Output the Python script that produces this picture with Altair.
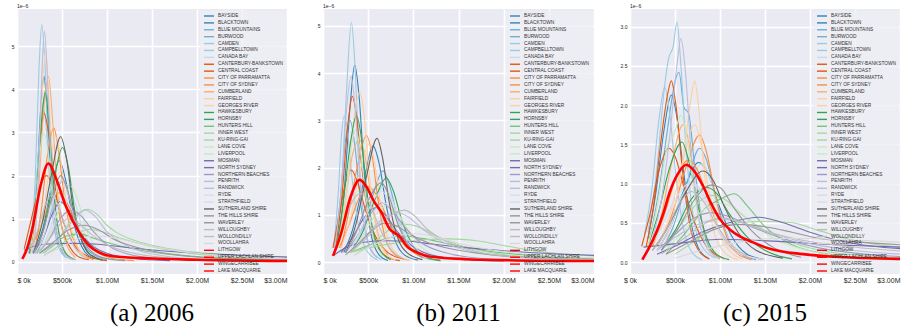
import altair as alt
import pandas as pd

FONT = "Liberation Sans"

NAMES = ["BAYSIDE", "BLACKTOWN", "BLUE MOUNTAINS", "BURWOOD", "CAMDEN", "CAMPBELLTOWN",
         "CANADA BAY", "CANTERBURY-BANKSTOWN", "CENTRAL COAST", "CITY OF PARRAMATTA",
         "CITY OF SYDNEY", "CUMBERLAND", "FAIRFIELD", "GEORGES RIVER", "HAWKESBURY",
         "HORNSBY", "HUNTERS HILL", "INNER WEST", "KU-RING-GAI", "LANE COVE", "LIVERPOOL",
         "MOSMAN", "NORTH SYDNEY", "NORTHERN BEACHES", "PENRITH", "RANDWICK", "RYDE",
         "STRATHFIELD", "SUTHERLAND SHIRE", "THE HILLS SHIRE", "WAVERLEY", "WILLOUGHBY",
         "WOLLONDILLY", "WOOLLAHRA", "LITHGOW", "UPPER LACHLAN SHIRE", "WINGECARRIBEE",
         "LAKE MACQUARIE"]

B1, B2, B3, B4 = "#3182bd", "#6baed6", "#9ecae1", "#c6dbef"
O1, O2, O3, O4 = "#e6550d", "#fd8d3c", "#fdae6b", "#fdd0a2"
G1, G2, G3, G4 = "#31a354", "#74c476", "#a1d99b", "#c7e9c0"
P1, P2, P3, P4 = "#756bb1", "#9e9ac8", "#bcbddc", "#dadaeb"
K1, K2, K3, K4 = "#636363", "#969696", "#bdbdbd", "#d9d9d9"
RED = "#ff0000"

COLORS_AB = [B1, B1, B2, B2, B3, B3, B4, O1, O1, O2, O2, O3, O4, O4, G1, G1, G2, G3, G3,
             G4, G4, P1, P1, P2, P3, P3, P4, P4, K1, K2, K2, K3, K3, K4, RED, RED, RED, RED]
COLORS_C = [B1, B1, B2, B2, B3, B4, B4, O1, O1, O2, O3, O3, O4, O4, G1, G2, G2, G3, G3,
            G4, P1, P1, P2, P2, P3, P4, P4, K1, K1, K2, K3, K3, K4, K4, RED, RED, RED, RED]

# price in $k, density in units of 1e-6
A2006 = {
    "BAYSIDE": [(180, 0.2), (290, 0.8), (390, 1.8), (470, 2.35), (540, 1.9), (620, 1.0), (720, 0.35), (850, 0.08)],
    "BLACKTOWN": [(140, 0.2), (210, 1.4), (265, 3.6), (300, 4.3), (335, 3.5), (390, 1.6), (450, 0.6), (550, 0.1)],
    "BLUE MOUNTAINS": [(130, 0.2), (200, 1.2), (270, 3.3), (320, 4.0), (360, 3.3), (420, 1.4), (500, 0.4), (600, 0.08)],
    "BURWOOD": [(220, 0.2), (320, 0.7), (420, 1.5), (510, 1.9), (590, 1.4), (680, 0.7), (800, 0.25), (1000, 0.05)],
    "CAMDEN": [(150, 0.3), (200, 1.8), (245, 4.5), (275, 5.5), (310, 4.6), (360, 2.0), (420, 0.7), (520, 0.15), (620, 0.05)],
    "CAMPBELLTOWN": [(130, 0.2), (200, 1.4), (255, 3.0), (290, 3.6), (330, 3.0), (380, 1.5), (440, 0.5), (540, 0.1)],
    "CANADA BAY": [(250, 0.2), (360, 0.7), (460, 1.4), (560, 1.8), (640, 1.4), (740, 0.7), (880, 0.25), (1100, 0.06)],
    "CANTERBURY-BANKSTOWN": [(160, 0.3), (220, 1.5), (265, 2.9), (300, 3.45), (350, 3.0), (420, 1.8), (500, 0.8), (600, 0.3), (700, 0.1), (800, 0.05)],
    "CENTRAL COAST": [(80, 0.3), (160, 1.0), (260, 1.8), (330, 2.0), (420, 1.6), (520, 0.9), (650, 0.35), (800, 0.12), (1000, 0.03)],
    "CITY OF PARRAMATTA": [(200, 0.3), (270, 1.2), (340, 2.5), (410, 3.1), (460, 2.6), (520, 1.6), (600, 0.7), (700, 0.25), (850, 0.05)],
    "CITY OF SYDNEY": [(150, 0.3), (260, 0.8), (370, 1.4), (460, 1.6), (560, 1.35), (680, 0.8), (820, 0.35), (1000, 0.12), (1300, 0.03)],
    "CUMBERLAND": [(150, 0.2), (230, 1.4), (300, 3.6), (350, 4.3), (395, 3.3), (450, 1.6), (520, 0.6), (650, 0.1)],
    "FAIRFIELD": [(150, 0.2), (220, 1.3), (280, 3.9), (318, 4.9), (355, 3.8), (410, 1.6), (480, 0.5), (600, 0.1)],
    "GEORGES RIVER": [(200, 0.3), (290, 1.1), (370, 2.3), (430, 2.9), (490, 2.3), (560, 1.2), (650, 0.45), (780, 0.1)],
    "HAWKESBURY": [(140, 0.2), (210, 1.3), (270, 3.2), (315, 3.92), (355, 3.2), (410, 1.6), (470, 0.6), (560, 0.15), (650, 0.05)],
    "HORNSBY": [(200, 0.2), (300, 0.8), (410, 1.9), (505, 2.65), (570, 2.2), (640, 1.2), (720, 0.5), (820, 0.15), (950, 0.04)],
    "HUNTERS HILL": [(250, 0.2), (400, 0.4), (550, 0.6), (700, 0.65), (850, 0.55), (1000, 0.45), (1300, 0.3), (1800, 0.15), (2400, 0.07), (3000, 0.04)],
    "INNER WEST": [(280, 0.2), (420, 0.4), (600, 0.95), (780, 1.22), (880, 1.12), (1000, 0.85), (1100, 0.69), (1300, 0.5), (1600, 0.34), (2000, 0.22), (2500, 0.15), (3000, 0.12)],
    "KU-RING-GAI": [(300, 0.15), (450, 0.35), (620, 0.6), (800, 0.75), (950, 0.7), (1150, 0.55), (1500, 0.35), (2000, 0.18), (2500, 0.1), (3000, 0.06)],
    "LANE COVE": [(250, 0.2), (380, 0.7), (500, 1.4), (600, 1.75), (680, 1.4), (780, 0.7), (920, 0.25), (1150, 0.06)],
    "LIVERPOOL": [(150, 0.3), (210, 1.3), (260, 2.6), (300, 3.0), (340, 2.6), (400, 1.4), (470, 0.5), (560, 0.1)],
    "MOSMAN": [(80, 0.27), (200, 0.37), (400, 0.42), (650, 0.43), (900, 0.41), (1200, 0.34), (1600, 0.26), (2000, 0.2), (2500, 0.15), (3000, 0.11)],
    "NORTH SYDNEY": [(200, 0.2), (300, 0.6), (400, 1.15), (480, 1.4), (570, 1.2), (680, 0.75), (820, 0.4), (1000, 0.2), (1300, 0.08), (1700, 0.03)],
    "NORTHERN BEACHES": [(220, 0.2), (350, 0.5), (480, 1.0), (600, 1.2), (720, 1.05), (850, 0.7), (1000, 0.4), (1300, 0.15), (1800, 0.05), (2300, 0.02)],
    "PENRITH": [(170, 0.2), (230, 1.5), (275, 4.3), (305, 5.35), (335, 4.4), (380, 2.2), (440, 0.7), (540, 0.15), (650, 0.05)],
    "RANDWICK": [(300, 0.2), (450, 0.5), (620, 0.95), (760, 1.2), (870, 1.05), (1000, 0.7), (1200, 0.4), (1600, 0.15), (2200, 0.05), (3000, 0.02)],
    "RYDE": [(200, 0.2), (300, 0.6), (400, 1.4), (500, 1.9), (580, 1.5), (680, 0.8), (800, 0.3), (1000, 0.07)],
    "STRATHFIELD": [(230, 0.2), (340, 0.6), (440, 1.2), (520, 1.5), (610, 1.2), (720, 0.6), (860, 0.2), (1050, 0.05)],
    "SUTHERLAND SHIRE": [(180, 0.2), (280, 0.9), (380, 2.0), (485, 2.9), (550, 2.4), (620, 1.3), (700, 0.6), (800, 0.2), (950, 0.05)],
    "THE HILLS SHIRE": [(180, 0.2), (290, 0.7), (390, 1.5), (485, 2.0), (570, 1.6), (660, 0.9), (780, 0.35), (950, 0.1), (1200, 0.03)],
    "WAVERLEY": [(250, 0.2), (400, 0.45), (580, 0.75), (750, 0.85), (900, 0.75), (1100, 0.5), (1400, 0.3), (1900, 0.14), (2500, 0.07), (3000, 0.05)],
    "WILLOUGHBY": [(220, 0.2), (350, 0.5), (470, 0.85), (570, 1.0), (680, 0.9), (820, 0.65), (1000, 0.4), (1300, 0.2), (1800, 0.08), (3000, 0.02)],
    "WOLLONDILLY": [(150, 0.3), (240, 0.8), (320, 1.35), (380, 1.55), (450, 1.35), (540, 0.8), (650, 0.3), (800, 0.07)],
    "WOOLLAHRA": [(300, 0.15), (500, 0.35), (700, 0.55), (900, 0.6), (1100, 0.55), (1400, 0.4), (1800, 0.25), (2400, 0.13), (3000, 0.08)],
}

B2011 = {
    "BAYSIDE": [(230, 0.2), (330, 0.7), (450, 1.7), (554, 2.46), (620, 2.1), (700, 1.2), (790, 0.5), (900, 0.15), (1050, 0.04)],
    "BLACKTOWN": [(150, 0.3), (230, 1.4), (300, 3.3), (351, 4.17), (400, 3.5), (460, 1.8), (530, 0.6), (620, 0.15), (720, 0.03)],
    "BLUE MOUNTAINS": [(120, 0.3), (190, 1.3), (250, 2.6), (300, 3.0), (350, 2.5), (420, 1.2), (500, 0.4), (600, 0.1)],
    "BURWOOD": [(300, 0.2), (420, 0.6), (550, 1.4), (664, 1.93), (740, 1.6), (830, 0.9), (950, 0.35), (1100, 0.1), (1300, 0.03)],
    "CAMDEN": [(130, 0.3), (200, 1.4), (260, 3.6), (314, 5.08), (350, 4.3), (400, 2.2), (460, 0.8), (550, 0.2), (650, 0.05)],
    "CAMPBELLTOWN": [(120, 0.3), (170, 1.5), (210, 2.8), (235, 3.1), (270, 2.8), (320, 1.8), (390, 0.8), (480, 0.25), (600, 0.05)],
    "CANADA BAY": [(300, 0.2), (420, 0.6), (560, 1.3), (680, 1.6), (760, 1.35), (860, 0.8), (980, 0.35), (1150, 0.1)],
    "CANTERBURY-BANKSTOWN": [(140, 0.3), (210, 1.4), (280, 3.0), (325, 3.51), (370, 3.1), (430, 2.0), (500, 1.0), (600, 0.35), (720, 0.1), (850, 0.03)],
    "CENTRAL COAST": [(110, 0.3), (180, 1.0), (260, 1.75), (314, 1.95), (380, 1.7), (470, 1.1), (580, 0.55), (720, 0.2), (900, 0.06)],
    "CITY OF PARRAMATTA": [(200, 0.3), (290, 1.1), (400, 2.2), (480, 2.68), (540, 2.3), (610, 1.3), (690, 0.5), (800, 0.15), (950, 0.04)],
    "CITY OF SYDNEY": [(180, 0.3), (290, 0.8), (410, 1.4), (500, 1.6), (600, 1.4), (720, 0.9), (860, 0.45), (1050, 0.15), (1300, 0.04)],
    "CUMBERLAND": [(150, 0.3), (230, 1.1), (330, 2.3), (400, 2.6), (460, 2.3), (530, 1.4), (610, 0.6), (720, 0.15)],
    "FAIRFIELD": [(170, 0.3), (250, 1.2), (340, 3.0), (406, 3.6), (450, 3.2), (510, 1.9), (580, 0.8), (680, 0.2), (800, 0.05)],
    "GEORGES RIVER": [(200, 0.3), (300, 0.9), (420, 2.0), (510, 2.5), (570, 2.1), (640, 1.2), (720, 0.5), (830, 0.15), (960, 0.04)],
    "HAWKESBURY": [(150, 0.3), (220, 1.2), (310, 2.6), (369, 3.1), (420, 2.7), (480, 1.6), (550, 0.7), (650, 0.2), (750, 0.05)],
    "HORNSBY": [(300, 0.2), (430, 0.6), (570, 1.3), (701, 1.78), (780, 1.5), (870, 0.9), (980, 0.4), (1120, 0.12), (1300, 0.03)],
    "HUNTERS HILL": [(300, 0.2), (500, 0.35), (700, 0.5), (900, 0.55), (1100, 0.5), (1400, 0.38), (1800, 0.24), (2300, 0.14), (3000, 0.07)],
    "INNER WEST": [(300, 0.2), (500, 0.3), (800, 0.4), (1100, 0.47), (1400, 0.49), (1700, 0.45), (2000, 0.35), (2400, 0.22), (2700, 0.16), (3000, 0.13)],
    "KU-RING-GAI": [(350, 0.15), (550, 0.4), (750, 0.7), (900, 0.8), (1050, 0.75), (1250, 0.55), (1550, 0.33), (2000, 0.16), (2500, 0.08), (3000, 0.05)],
    "LANE COVE": [(300, 0.2), (430, 0.5), (580, 1.0), (720, 1.2), (820, 1.05), (950, 0.65), (1100, 0.3), (1350, 0.08)],
    "LIVERPOOL": [(170, 0.3), (240, 1.2), (310, 2.4), (360, 2.8), (410, 2.4), (480, 1.3), (560, 0.5), (660, 0.12)],
    "MOSMAN": [(111, 0.13), (250, 0.3), (450, 0.42), (700, 0.45), (950, 0.44), (1200, 0.38), (1600, 0.3), (2000, 0.24), (2500, 0.18), (3000, 0.14)],
    "NORTH SYDNEY": [(200, 0.2), (320, 0.5), (460, 0.95), (580, 1.15), (690, 1.0), (820, 0.65), (980, 0.35), (1200, 0.15), (1600, 0.05), (2000, 0.02)],
    "NORTHERN BEACHES": [(250, 0.2), (380, 0.55), (520, 1.0), (650, 1.25), (760, 1.1), (900, 0.75), (1080, 0.42), (1350, 0.2), (1800, 0.07), (2400, 0.03)],
    "PENRITH": [(130, 0.3), (200, 1.5), (260, 3.2), (310, 3.93), (350, 3.4), (410, 1.7), (480, 0.6), (580, 0.12)],
    "RANDWICK": [(300, 0.2), (450, 0.5), (650, 0.9), (820, 1.05), (950, 0.95), (1100, 0.7), (1350, 0.4), (1700, 0.2), (2300, 0.08), (3000, 0.04)],
    "RYDE": [(280, 0.2), (400, 0.6), (540, 1.25), (650, 1.5), (740, 1.25), (850, 0.7), (980, 0.3), (1150, 0.08)],
    "STRATHFIELD": [(300, 0.2), (420, 0.5), (560, 1.05), (680, 1.25), (780, 1.05), (900, 0.6), (1050, 0.25), (1250, 0.07)],
    "SUTHERLAND SHIRE": [(250, 0.2), (350, 0.7), (480, 1.8), (598, 2.62), (660, 2.2), (730, 1.3), (820, 0.55), (930, 0.2), (1100, 0.05)],
    "THE HILLS SHIRE": [(250, 0.2), (360, 0.6), (500, 1.3), (646, 1.68), (730, 1.4), (830, 0.8), (950, 0.35), (1100, 0.1)],
    "WAVERLEY": [(250, 0.15), (400, 0.4), (560, 0.7), (680, 0.82), (800, 0.78), (950, 0.6), (1150, 0.42), (1500, 0.25), (2000, 0.13), (2500, 0.08), (3000, 0.05)],
    "WILLOUGHBY": [(300, 0.2), (450, 0.45), (650, 0.85), (900, 1.1), (1000, 1.0), (1150, 0.7), (1350, 0.45), (1700, 0.22), (2200, 0.1), (3000, 0.05)],
    "WOLLONDILLY": [(140, 0.3), (230, 0.8), (330, 1.3), (420, 1.45), (500, 1.3), (600, 0.85), (720, 0.35), (880, 0.08)],
    "WOOLLAHRA": [(350, 0.15), (550, 0.35), (800, 0.55), (1050, 0.6), (1300, 0.5), (1600, 0.35), (2000, 0.22), (2500, 0.13), (3000, 0.09)],
}

C2015 = {
    "BAYSIDE": [(300, 0.15), (450, 0.45), (610, 0.95), (760, 1.27), (860, 1.15), (980, 0.75), (1120, 0.35), (1300, 0.1), (1500, 0.03)],
    "BLACKTOWN": [(200, 0.3), (290, 0.9), (380, 1.7), (459, 2.13), (520, 1.85), (590, 1.2), (670, 0.55), (760, 0.18), (880, 0.04)],
    "BLUE MOUNTAINS": [(220, 0.3), (320, 0.9), (430, 1.8), (500, 2.3), (544, 2.42), (600, 1.97), (650, 1.9), (720, 1.2), (800, 0.5), (900, 0.15), (1050, 0.04)],
    "BURWOOD": [(350, 0.15), (480, 0.45), (630, 1.0), (774, 1.45), (850, 1.3), (950, 0.85), (1060, 0.4), (1200, 0.12), (1400, 0.03)],
    "CAMDEN": [(160, 0.35), (240, 0.9), (320, 1.8), (385, 2.23), (440, 1.9), (510, 1.1), (590, 0.45), (690, 0.12), (800, 0.03)],
    "CAMPBELLTOWN": [(200, 0.38), (300, 1.2), (380, 2.2), (430, 2.6), (480, 2.75), (522, 3.06), (560, 2.6), (620, 1.5), (700, 0.6), (800, 0.2), (950, 0.05)],
    "CANADA BAY": [(400, 0.15), (530, 0.45), (680, 1.0), (790, 1.25), (880, 1.1), (980, 0.65), (1100, 0.28), (1280, 0.08)],
    "CANTERBURY-BANKSTOWN": [(180, 0.2), (260, 0.7), (350, 1.6), (420, 2.15), (459, 2.31), (510, 2.0), (580, 1.2), (660, 0.5), (760, 0.15), (880, 0.04)],
    "CENTRAL COAST": [(130, 0.2), (220, 0.6), (330, 1.2), (430, 1.45), (500, 1.35), (600, 0.95), (720, 0.5), (850, 0.2), (1000, 0.06)],
    "CITY OF PARRAMATTA": [(300, 0.2), (450, 0.55), (620, 1.2), (774, 1.62), (850, 1.4), (940, 0.9), (1050, 0.4), (1180, 0.12), (1350, 0.03)],
    "CITY OF SYDNEY": [(250, 0.2), (380, 0.6), (520, 1.1), (650, 1.3), (760, 1.15), (880, 0.75), (1020, 0.35), (1200, 0.12), (1450, 0.04)],
    "CUMBERLAND": [(250, 0.2), (350, 0.6), (470, 1.3), (589, 1.75), (650, 1.55), (720, 1.0), (800, 0.5), (900, 0.18), (1050, 0.04)],
    "FAIRFIELD": [(380, 0.2), (480, 0.6), (600, 1.4), (680, 2.1), (719, 2.31), (760, 2.0), (830, 1.1), (920, 0.45), (1050, 0.12), (1200, 0.03)],
    "GEORGES RIVER": [(300, 0.2), (430, 0.55), (580, 1.25), (719, 1.75), (790, 1.5), (870, 0.95), (970, 0.45), (1100, 0.15), (1250, 0.04)],
    "HAWKESBURY": [(200, 0.2), (310, 0.6), (440, 1.2), (578, 1.53), (650, 1.3), (740, 0.8), (840, 0.35), (960, 0.1), (1100, 0.03)],
    "HORNSBY": [(350, 0.15), (500, 0.4), (680, 0.8), (850, 0.95), (960, 0.88), (1100, 0.62), (1300, 0.32), (1550, 0.12), (1800, 0.04)],
    "HUNTERS HILL": [(400, 0.1), (600, 0.35), (850, 0.7), (1000, 0.8), (1163, 0.87), (1300, 0.72), (1500, 0.45), (1800, 0.22), (2200, 0.1), (2600, 0.05), (3000, 0.03)],
    "INNER WEST": [(400, 0.2), (550, 0.45), (750, 0.75), (900, 0.85), (1050, 0.8), (1250, 0.6), (1500, 0.4), (1800, 0.25), (2200, 0.13), (2600, 0.08), (3000, 0.05)],
    "KU-RING-GAI": [(500, 0.1), (700, 0.25), (900, 0.4), (1200, 0.5), (1500, 0.52), (1800, 0.5), (2100, 0.4), (2400, 0.3), (2700, 0.23), (3000, 0.19)],
    "LANE COVE": [(400, 0.15), (600, 0.4), (800, 0.65), (1000, 0.75), (1150, 0.7), (1350, 0.5), (1600, 0.3), (2000, 0.14), (2500, 0.06), (3000, 0.03)],
    "LIVERPOOL": [(200, 0.2), (300, 0.7), (420, 1.5), (480, 1.6), (567, 1.87), (630, 1.6), (700, 1.0), (780, 0.45), (880, 0.15), (1000, 0.04)],
    "MOSMAN": [(150, 0.19), (400, 0.22), (700, 0.26), (1000, 0.29), (1300, 0.28), (1700, 0.26), (2100, 0.23), (2500, 0.21), (3000, 0.19)],
    "NORTH SYDNEY": [(300, 0.1), (500, 0.2), (800, 0.38), (1100, 0.5), (1441, 0.57), (1700, 0.5), (2000, 0.38), (2300, 0.28), (2700, 0.2), (3000, 0.17)],
    "NORTHERN BEACHES": [(300, 0.15), (500, 0.35), (700, 0.55), (900, 0.63), (1100, 0.58), (1350, 0.45), (1700, 0.3), (2100, 0.18), (2600, 0.1), (3000, 0.07)],
    "PENRITH": [(250, 0.3), (350, 0.8), (450, 1.7), (520, 2.5), (567, 2.85), (610, 2.5), (680, 1.4), (760, 0.6), (870, 0.15), (1000, 0.04)],
    "RANDWICK": [(300, 0.15), (550, 0.35), (800, 0.5), (1000, 0.55), (1250, 0.5), (1550, 0.38), (1900, 0.26), (2400, 0.16), (3000, 0.1)],
    "RYDE": [(300, 0.15), (450, 0.45), (580, 0.85), (700, 1.0), (800, 0.9), (920, 0.55), (1060, 0.25), (1250, 0.08)],
    "STRATHFIELD": [(200, 0.15), (330, 0.4), (500, 0.8), (663, 1.0), (780, 0.9), (900, 0.6), (1050, 0.3), (1250, 0.1), (1500, 0.03)],
    "SUTHERLAND SHIRE": [(250, 0.15), (400, 0.4), (600, 0.85), (811, 1.16), (920, 1.05), (1050, 0.7), (1200, 0.38), (1400, 0.15), (1700, 0.05)],
    "THE HILLS SHIRE": [(350, 0.15), (520, 0.4), (720, 0.8), (900, 0.98), (1000, 0.95), (1150, 0.7), (1350, 0.4), (1600, 0.18), (1900, 0.06)],
    "WAVERLEY": [(400, 0.1), (650, 0.25), (900, 0.4), (1200, 0.48), (1500, 0.45), (1800, 0.38), (2100, 0.3), (2500, 0.26), (3000, 0.22)],
    "WILLOUGHBY": [(350, 0.1), (600, 0.3), (850, 0.5), (1050, 0.56), (1250, 0.5), (1550, 0.38), (1900, 0.28), (2400, 0.2), (3000, 0.14)],
    "WOLLONDILLY": [(250, 0.15), (400, 0.4), (550, 0.75), (680, 0.9), (800, 0.8), (950, 0.5), (1100, 0.25), (1300, 0.08)],
    "WOOLLAHRA": [(500, 0.05), (800, 0.15), (1200, 0.25), (1600, 0.3), (2000, 0.3), (2400, 0.28), (2700, 0.27), (3000, 0.25)],
}

ALL_2006 = [(59, 0.07), (110, 0.3), (170, 0.76), (263, 1.77), (348, 2.28), (440, 1.9), (541, 1.3), (689, 0.69),
            (800, 0.38), (911, 0.22), (1059, 0.13), (1500, 0.08), (2000, 0.05), (3000, 0.02)]
ALL_2011 = [(111, 0.13), (200, 0.6), (300, 1.35), (406, 1.74), (480, 1.6), (560, 1.3), (646, 1.05), (738, 0.70),
            (849, 0.54), (941, 0.31), (1033, 0.21), (1200, 0.11), (1600, 0.06), (2000, 0.04), (3000, 0.02)]
ALL_2015 = [(137, 0.03), (220, 0.2), (293, 0.38), (370, 0.62), (441, 0.89), (530, 1.12), (626, 1.24), (720, 1.15),
            (811, 0.97), (900, 0.75), (996, 0.55), (1126, 0.40), (1367, 0.25), (1552, 0.17), (1922, 0.10),
            (2400, 0.06), (3000, 0.04)]

X_TICKS = [0, 500, 1000, 1500, 2000, 2500, 3000]
Y_TICKS_A = [0, 1, 2, 3, 4, 5]
Y_TICKS_B = [0, 1, 2, 3, 4, 5]
Y_TICKS_C = [0, 0.5, 1.0, 1.5, 2.0, 2.5, 3.0]

HEIGHT = 265
X_LABEL = ("datum.value == 0 ? '$ 0k' : (datum.value < 1000 ? '$' + datum.value + 'k' : "
           "'$' + format(datum.value / 1000, '.2f') + 'M')")
GRID = dict(grid=True, gridColor="#ffffff", gridWidth=1.6, gridOpacity=1)


def curve_frame(curves):
    rows = []
    for name, pts in curves.items():
        for i, (x, y) in enumerate(pts):
            rows.append({"name": name, "x": x, "y": y, "i": i})
    return pd.DataFrame(rows)


def panel(curves, overall, colors, width, ydom, yvals, yfmt, caption, last_right=False):
    one = pd.DataFrame({"a": [0]})
    xsc = alt.Scale(domain=[0, 3000], nice=False, zero=False)
    ysc = alt.Scale(domain=ydom, nice=False, zero=False)
    xkw = dict(values=X_TICKS, labelExpr=X_LABEL, title=None, labelFontSize=7,
               labelPadding=2, labelFont=FONT, labelColor="#262626", **GRID)
    if last_right:
        xkw["labelAlign"] = {"condition": {"test": "datum.value >= 3000", "value": "right"},
                             "value": "center"}
    xax = alt.Axis(**xkw)
    yax = alt.Axis(values=yvals, format=yfmt, title=None, labelFontSize=5,
                   labelPadding=3, labelFont=FONT, labelColor="#262626", **GRID)
    cs = alt.Scale(domain=NAMES, range=colors)

    frame = alt.Chart(one).mark_rect(fill="#EEEEF4", opacity=0.8).encode(
        x=alt.value(183), x2=alt.value(width - 1), y=alt.value(2), y2=alt.value(HEIGHT))

    lines = alt.Chart(curve_frame(curves)).mark_line(
        interpolate="monotone", strokeWidth=1.1, clip=True).encode(
        x=alt.X("x:Q", scale=xsc, axis=xax),
        y=alt.Y("y:Q", scale=ysc, axis=yax),
        color=alt.Color("name:N", scale=cs, legend=None),
        order=alt.Order("i:Q"))
    odf = pd.DataFrame({"x": [p[0] for p in overall], "y": [p[1] for p in overall]})
    red = alt.Chart(odf).mark_line(interpolate="monotone", color=RED, strokeWidth=2.6, clip=True).encode(
        x=alt.X("x:Q", scale=xsc, axis=xax),
        y=alt.Y("y:Q", scale=ysc, axis=yax))
    plot = alt.layer(lines, red)

    ldf = pd.DataFrame({"name": NAMES})
    lsc = alt.Scale(type="point", domain=NAMES, range=[7, 262], padding=0)
    leg_rule = alt.Chart(ldf).mark_rule(strokeWidth=1.4).encode(
        x=alt.value(187), x2=alt.value(197),
        y=alt.Y("name:N", scale=lsc, axis=None),
        color=alt.Color("name:N", scale=cs, legend=None))
    leg_text = alt.Chart(ldf).mark_text(align="left", baseline="middle", fontSize=4.8,
                                        font=FONT, color="#333333").encode(
        x=alt.value(201), y=alt.Y("name:N", scale=lsc, axis=None), text="name:N")

    offset = alt.Chart(one).mark_text(text="1e\u22126", align="left", baseline="middle",
                                      fontSize=5, font=FONT, color="#262626").encode(
        x=alt.value(0), y=alt.value(-3))
    cap = alt.Chart(one).mark_text(text=caption, align="center", baseline="alphabetic",
                                   fontSize=25, font="Liberation Serif", color="black").encode(
        x=alt.value(width / 2), y=alt.value(312))

    return alt.layer(frame, plot, leg_rule, leg_text, offset, cap).resolve_scale(
        y="independent").properties(width=width, height=HEIGHT)


pa = panel(A2006, ALL_2006, COLORS_AB, 270, [-0.28, 5.86], Y_TICKS_A, "d", "(a) 2006")
pb = panel(B2011, ALL_2011, COLORS_AB, 271, [-0.254, 5.36], Y_TICKS_B, "d", "(b) 2011")
pc = panel(C2015, ALL_2015, COLORS_C, 270, [-0.153, 3.227], Y_TICKS_C, ".1f", "(c) 2015",
           last_right=True)

chart = alt.hconcat(pa, pb, pc, spacing=36, bounds="flush").properties(
    autosize=alt.AutoSizeParams(type="pad"),
    padding={"left": 11, "top": 4, "right": 5, "bottom": 1},
    background="white",
).configure_view(fill="#EAEAF2", stroke=None).configure_axis(
    domain=False, ticks=False)

chart.save("out.html", embed_options={"renderer": "svg", "actions": False})
